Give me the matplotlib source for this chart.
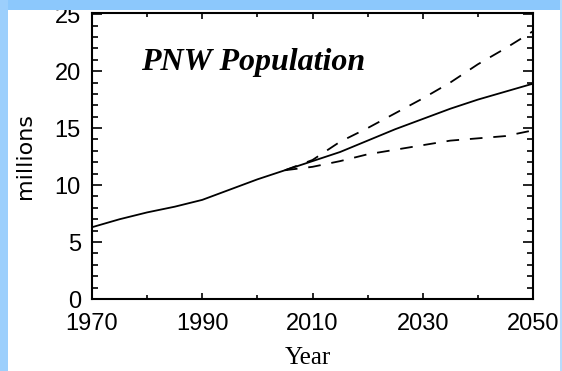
import matplotlib
matplotlib.use("Agg")
import matplotlib.pyplot as plt
from matplotlib.patches import Rectangle
from matplotlib.ticker import MultipleLocator

# Data (millions)
years_mid = [1970, 1975, 1980, 1985, 1990, 1995, 2000, 2005, 2010, 2015,
             2020, 2025, 2030, 2035, 2040, 2045, 2050]
pop_mid = [6.3, 7.0, 7.6, 8.1, 8.7, 9.6, 10.5, 11.3, 12.1, 12.9,
           13.9, 14.9, 15.8, 16.7, 17.5, 18.2, 18.9]
years_proj = [2005, 2010, 2015, 2020, 2025, 2030, 2035, 2040, 2045, 2050]
pop_high = [11.3, 12.2, 13.8, 15.0, 16.3, 17.6, 19.0, 20.6, 22.0, 23.5]
pop_low = [11.3, 11.6, 12.1, 12.7, 13.1, 13.5, 13.9, 14.1, 14.3, 14.8]
xticks = [1970, 1990, 2010, 2030, 2050]
yticks = [0, 5, 10, 15, 20, 25]

W, H = 562, 371
fig = plt.figure(figsize=(W / 100, H / 100), dpi=100)
fig.patch.set_facecolor("white")

ax = fig.add_axes([92 / W, 1 - 299 / H, (533 - 92) / W, (299 - 13) / H])
ax.plot(years_mid, pop_mid, color="black", lw=1.3)
ax.plot(years_proj, pop_high, color="black", lw=1.3, dashes=(7, 6))
ax.plot(years_proj, pop_low, color="black", lw=1.3, dashes=(7, 6))

ax.set_xlim(1970, 2050)
ax.set_ylim(0, 25.1)
ax.set_xticks(xticks)
ax.xaxis.set_minor_locator(MultipleLocator(10))
ax.set_yticks(yticks)
ax.yaxis.set_minor_locator(MultipleLocator(1))
ax.tick_params(which="both", direction="in", top=True, right=True,
               color="black", width=1.2)
ax.tick_params(axis="y", which="major", length=7)
ax.tick_params(axis="y", which="minor", length=4.5)
ax.tick_params(axis="x", which="major", length=4)
ax.tick_params(axis="x", which="minor", length=3)
ax.tick_params(axis="x", pad=10)
ax.tick_params(axis="y", pad=8)
for lab in ax.get_xticklabels() + ax.get_yticklabels():
    lab.set_fontfamily("Liberation Sans")
    lab.set_fontsize(17)
for s in ax.spines.values():
    s.set_linewidth(1.5)

fig.text(308 / W, 1 - 358 / H, "Year", family="Liberation Serif",
         fontsize=18, ha="center", va="center")
fig.text(25 / W, 1 - 156 / H, "millions", family="DejaVu Sans",
         fontsize=16, rotation=90, ha="center", va="center")
fig.text(141 / W, 1 - 70 / H, "PNW Population", family="Liberation Serif",
         fontsize=23, fontweight="bold", fontstyle="italic",
         ha="left", va="baseline")

# slide background frame
fig.patches.append(Rectangle((0, 1 - 10 / H), 1, 10 / H, transform=fig.transFigure,
                             facecolor="#8cc8fc", edgecolor="none", zorder=10))
fig.patches.append(Rectangle((0, 0), 8 / W, 1, transform=fig.transFigure,
                             facecolor="#9ccffc", edgecolor="none", zorder=10))
fig.patches.append(Rectangle((1 - 2 / W, 0), 2 / W, 1, transform=fig.transFigure,
                             facecolor="#b8dcfc", edgecolor="none", zorder=10))

fig.savefig("out.png", dpi=100, facecolor=fig.get_facecolor())
